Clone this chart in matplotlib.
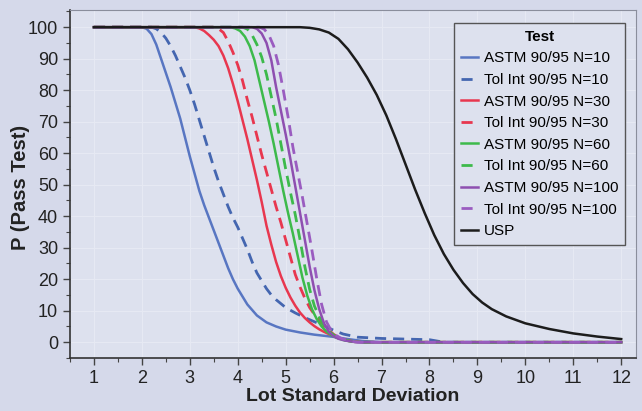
import matplotlib
matplotlib.use("Agg")
import matplotlib.pyplot as plt
from matplotlib.ticker import MultipleLocator

plt.rcParams['font.family'] = ['Liberation Sans', 'DejaVu Sans']

# values (P in %, vs lot standard deviation)
astm10_x = [1, 2.0, 2.1, 2.2, 2.3, 2.4, 2.5, 2.6, 2.7, 2.8, 2.9, 3.0, 3.1, 3.2, 3.3, 3.4, 3.5, 3.6, 3.7, 3.8,
            3.9, 4.0, 4.2, 4.4, 4.6, 4.8, 5.0, 5.3, 5.6, 6.0, 6.3, 6.6, 7.0, 12]
astm10_y = [100, 100, 99.5, 97.8, 94.5, 90, 85.5, 81, 76, 71, 65, 59, 53.5, 48, 43.5, 39.5, 35.5, 31.5, 27.5, 23.5,
            20, 17, 12, 8.5, 6.3, 5, 4, 3.1, 2.4, 1.7, 1, 0.4, 0, 0]
tol10_x = [1, 2.2, 2.3, 2.4, 2.5, 2.6, 2.7, 2.8, 2.9, 3.0, 3.1, 3.2, 3.3, 3.4, 3.5, 3.6, 3.7, 3.8, 3.9, 4.0,
           4.1, 4.2, 4.3, 4.4, 4.5, 4.6, 4.7, 4.8, 5.0, 5.2, 5.4, 5.6, 5.8, 6.0, 6.2, 6.5, 7.0, 7.5, 8.0, 8.3, 12]
tol10_y = [100, 100, 99.5, 98.3, 96.5, 94, 91, 87.5, 84, 80, 75.5, 70.5, 65.5, 60.5, 55.5, 51, 47, 43, 39.5, 36.5,
           33, 29.5, 25.5, 22, 19.5, 17, 15, 13.5, 11, 9.3, 7.8, 6.5, 5.2, 3.8, 2.6, 1.6, 1.2, 1.0, 0.8, 0, 0]
astm30_x = [1, 3.1, 3.2, 3.3, 3.4, 3.5, 3.6, 3.7, 3.8, 3.9, 4.0, 4.1, 4.2, 4.3, 4.4, 4.5, 4.6, 4.7, 4.8, 4.9,
            5.0, 5.1, 5.2, 5.3, 5.4, 5.5, 5.6, 5.7, 5.8, 5.9, 6.0, 6.1, 6.2, 6.4, 6.6, 12]
astm30_y = [100, 100, 99.6, 98.8, 97.5, 96, 94, 91, 87, 82, 76.5, 70.5, 64.5, 58, 51.5, 44.5, 37, 31, 25.5, 21,
            17.3, 14.2, 11.6, 9.4, 7.7, 6.3, 5.1, 4.1, 3.3, 2.6, 2.0, 1.4, 0.9, 0.3, 0, 0]
tol30_x = [1, 3.5, 3.6, 3.7, 3.8, 3.9, 4.0, 4.1, 4.2, 4.3, 4.4, 4.5, 4.6, 4.7, 4.8, 4.9, 5.0, 5.1, 5.2, 5.3,
           5.4, 5.5, 5.6, 5.7, 5.8, 5.9, 6.0, 6.1, 6.2, 6.4, 6.6, 12]
tol30_y = [100, 100, 99.5, 98.3, 95.5, 92, 88, 83, 77, 71.5, 65.5, 59.5, 54, 48.5, 43, 38, 32.5, 27, 21.5, 17.5,
           14, 11, 8.8, 7, 5.3, 3.8, 2.5, 1.5, 0.8, 0.2, 0, 0]
astm60_x = [1, 3.85, 3.95, 4.05, 4.15, 4.25, 4.35, 4.45, 4.55, 4.65, 4.75, 4.85, 4.95, 5.05, 5.15, 5.25, 5.35,
            5.45, 5.55, 5.65, 5.75, 5.85, 5.95, 6.05, 6.2, 6.4, 6.6, 12]
astm60_y = [100, 100, 99.6, 98.8, 97, 94, 89.5, 83, 76.5, 70, 63, 55.5, 48, 41, 34.5, 27.5, 20.5,
            14.8, 10.4, 7.3, 5, 3.4, 2.3, 1.5, 0.7, 0.2, 0, 0]
tol60_x = [1, 4.1, 4.2, 4.3, 4.4, 4.5, 4.6, 4.7, 4.8, 4.9, 5.0, 5.1, 5.2, 5.3, 5.4, 5.5, 5.6, 5.7, 5.8, 5.9,
           6.0, 6.1, 6.25, 6.5, 12]
tol60_y = [100, 100, 99.4, 97.5, 94.5, 90.5, 85, 78, 71, 63, 55, 47.5, 40.5, 32.5, 24, 16.8, 11.5, 8, 5.3, 3.5,
           2.3, 1.4, 0.6, 0, 0]
astm100_x = [1, 4.3, 4.4, 4.5, 4.6, 4.7, 4.8, 4.9, 5.0, 5.1, 5.2, 5.3, 5.4, 5.5, 5.6, 5.7, 5.8, 5.9, 6.0,
             6.1, 6.25, 6.5, 12]
astm100_y = [100, 100, 99.5, 98, 95, 89.5, 81, 73.5, 66, 58, 49.5, 41, 32.5, 24, 16.5, 10.5, 6, 3.3, 1.9,
             1.1, 0.5, 0, 0]
tol100_x = [1, 4.45, 4.55, 4.65, 4.75, 4.85, 4.95, 5.05, 5.15, 5.25, 5.35, 5.45, 5.55, 5.65, 5.75, 5.85, 5.95,
            6.05, 6.15, 6.3, 6.5, 12]
tol100_y = [100, 100, 99.4, 97.5, 94, 88, 80, 71.5, 62, 54, 46, 37.5, 29, 20, 12, 6.5, 3.7,
            2.2, 1.3, 0.5, 0, 0]
usp_x = [1, 5.3, 5.5, 5.7, 5.9, 6.1, 6.3, 6.5, 6.7, 6.9, 7.1, 7.3, 7.5, 7.7, 7.9, 8.1, 8.3, 8.5, 8.7, 8.9,
         9.1, 9.3, 9.6, 10.0, 10.5, 11.0, 11.5, 12.0]
usp_y = [100, 100, 99.8, 99.3, 98.3, 96.3, 93, 88.8, 84, 78.5, 72, 64.5, 56.5, 48.5, 41, 34, 28, 23, 18.8, 15.3,
         12.6, 10.5, 8.2, 6, 4.2, 2.8, 1.8, 1.0]

blue, red, green, purple = '#5876c2', '#e8374f', '#3dba4b', '#8e4fb0'

fig = plt.figure(figsize=(6.42, 4.11), dpi=100, facecolor='#d5d9ea')
ax = fig.add_axes([0.109, 0.129, 0.881, 0.847], facecolor='#dde1ee')

series = [
    (astm10_x, astm10_y, blue, '-', 'ASTM 90/95 N=10'),
    (tol10_x, tol10_y, '#4466b0', '--', 'Tol Int 90/95 N=10'),
    (astm30_x, astm30_y, red, '-', 'ASTM 90/95 N=30'),
    (tol30_x, tol30_y, red, '--', 'Tol Int 90/95 N=30'),
    (astm60_x, astm60_y, green, '-', 'ASTM 90/95 N=60'),
    (tol60_x, tol60_y, green, '--', 'Tol Int 90/95 N=60'),
    (astm100_x, astm100_y, purple, '-', 'ASTM 90/95 N=100'),
    (tol100_x, tol100_y, '#9a5cc0', '--', 'Tol Int 90/95 N=100'),
    (usp_x, usp_y, '#1c1c1c', '-', 'USP'),
]
for xs, ys, c, ls, lab in series:
    if ls == '--':
        ax.plot(xs, ys, color=c, lw=2.0, dashes=(4, 2.5), label=lab)
    else:
        ax.plot(xs, ys, color=c, lw=1.8, label=lab)

ax.set_xlim(0.5, 12.3)
ax.set_ylim(-5, 105.5)
ax.xaxis.set_major_locator(MultipleLocator(1))
ax.xaxis.set_minor_locator(MultipleLocator(0.5))
ax.yaxis.set_major_locator(MultipleLocator(10))
ax.yaxis.set_minor_locator(MultipleLocator(5))
ax.tick_params(which='major', length=5, width=1, color='#444444', labelsize=13, labelcolor='#222222')
ax.tick_params(which='minor', length=3, width=0.8, color='#444444')
ax.grid(True, which='major', color='#e6e9f3', lw=0.8)
ax.set_axisbelow(True)

for side in ['top', 'right']:
    ax.spines[side].set_color('#8a8e9c')
for side in ['left', 'bottom']:
    ax.spines[side].set_color('#333333')
    ax.spines[side].set_linewidth(1.2)

ax.set_xlabel('Lot Standard Deviation', fontsize=14, fontweight='bold', color='#222222', labelpad=1)
ax.set_ylabel('P (Pass Test)', fontsize=14.5, fontweight='bold', color='#222222')
ax.yaxis.set_label_coords(-0.071, 0.49)

leg = ax.legend(title='Test', loc='upper right', bbox_to_anchor=(0.995, 0.985), fontsize=11,
                title_fontproperties={'weight': 'bold', 'size': 11}, frameon=True, fancybox=False,
                handlelength=1.1, handletextpad=0.4, labelspacing=0.5, borderpad=0.45)
leg.get_frame().set_facecolor('#dde1ee')
leg.get_frame().set_edgecolor('#555555')
leg.get_frame().set_alpha(1)

fig.savefig('out.png', dpi=100, facecolor=fig.get_facecolor())
